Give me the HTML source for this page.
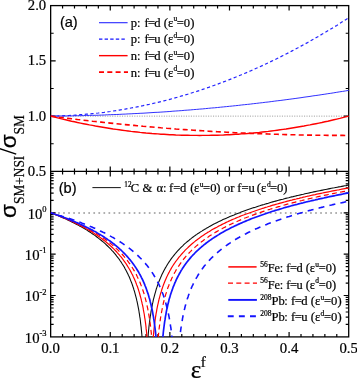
<!DOCTYPE html>
<html><head><meta charset="utf-8"><title>fig</title>
<style>
html,body{margin:0;padding:0;background:#fff;}
body{width:357px;height:378px;overflow:hidden;}
svg{display:block;will-change:transform;}
text{font-family:"Liberation Serif",serif;fill:#000;stroke:#000;stroke-width:0.22px;}
.sans{font-family:"Liberation Sans",sans-serif;}
</style></head><body>
<svg width="357" height="378" viewBox="0 0 357 378">
<defs><clipPath id="ca"><rect x="50.65" y="5.60" width="298.75" height="165.80"/></clipPath><clipPath id="cb"><rect x="50.65" y="171.40" width="298.75" height="165.50"/></clipPath></defs>
<line x1="50.65" y1="116.13" x2="348.70" y2="116.13" stroke="#a0a0a0" stroke-width="1.0" stroke-dasharray="1.1 1.36"/>
<line x1="53.05" y1="213.03" x2="348.70" y2="213.03" stroke="#969696" stroke-width="1.4" stroke-dasharray="1.7 3.34"/>
<path d="M62.57,5.60v3.00M62.57,168.40v6.00M62.57,336.90v-3.00M74.49,5.60v3.00M74.49,168.40v6.00M74.49,336.90v-3.00M86.42,5.60v3.00M86.42,168.40v6.00M86.42,336.90v-3.00M98.34,5.60v3.00M98.34,168.40v6.00M98.34,336.90v-3.00M110.26,5.60v5.00M110.26,166.40v10.00M110.26,336.90v-5.00M122.18,5.60v3.00M122.18,168.40v6.00M122.18,336.90v-3.00M134.10,5.60v3.00M134.10,168.40v6.00M134.10,336.90v-3.00M146.03,5.60v3.00M146.03,168.40v6.00M146.03,336.90v-3.00M157.95,5.60v3.00M157.95,168.40v6.00M157.95,336.90v-3.00M169.87,5.60v5.00M169.87,166.40v10.00M169.87,336.90v-5.00M181.79,5.60v3.00M181.79,168.40v6.00M181.79,336.90v-3.00M193.71,5.60v3.00M193.71,168.40v6.00M193.71,336.90v-3.00M205.64,5.60v3.00M205.64,168.40v6.00M205.64,336.90v-3.00M217.56,5.60v3.00M217.56,168.40v6.00M217.56,336.90v-3.00M229.48,5.60v5.00M229.48,166.40v10.00M229.48,336.90v-5.00M241.40,5.60v3.00M241.40,168.40v6.00M241.40,336.90v-3.00M253.32,5.60v3.00M253.32,168.40v6.00M253.32,336.90v-3.00M265.25,5.60v3.00M265.25,168.40v6.00M265.25,336.90v-3.00M277.17,5.60v3.00M277.17,168.40v6.00M277.17,336.90v-3.00M289.09,5.60v5.00M289.09,166.40v10.00M289.09,336.90v-5.00M301.01,5.60v3.00M301.01,168.40v6.00M301.01,336.90v-3.00M312.93,5.60v3.00M312.93,168.40v6.00M312.93,336.90v-3.00M324.86,5.60v3.00M324.86,168.40v6.00M324.86,336.90v-3.00M336.78,5.60v3.00M336.78,168.40v6.00M336.78,336.90v-3.00M50.65,33.23h3.00M348.70,33.23h-3.00M50.65,60.87h5.00M348.70,60.87h-5.00M50.65,88.50h3.00M348.70,88.50h-3.00M50.65,116.13h5.00M348.70,116.13h-5.00M50.65,143.77h3.00M348.70,143.77h-3.00M50.65,324.44h3.00M348.70,324.44h-3.00M50.65,317.16h3.00M348.70,317.16h-3.00M50.65,311.99h3.00M348.70,311.99h-3.00M50.65,307.98h3.00M348.70,307.98h-3.00M50.65,304.70h3.00M348.70,304.70h-3.00M50.65,301.93h3.00M348.70,301.93h-3.00M50.65,299.53h3.00M348.70,299.53h-3.00M50.65,297.42h3.00M348.70,297.42h-3.00M50.65,295.52h5.00M348.70,295.52h-5.00M50.65,283.07h3.00M348.70,283.07h-3.00M50.65,275.78h3.00M348.70,275.78h-3.00M50.65,270.61h3.00M348.70,270.61h-3.00M50.65,266.61h3.00M348.70,266.61h-3.00M50.65,263.33h3.00M348.70,263.33h-3.00M50.65,260.56h3.00M348.70,260.56h-3.00M50.65,258.16h3.00M348.70,258.16h-3.00M50.65,256.04h3.00M348.70,256.04h-3.00M50.65,254.15h5.00M348.70,254.15h-5.00M50.65,241.69h3.00M348.70,241.69h-3.00M50.65,234.41h3.00M348.70,234.41h-3.00M50.65,229.24h3.00M348.70,229.24h-3.00M50.65,225.23h3.00M348.70,225.23h-3.00M50.65,221.95h3.00M348.70,221.95h-3.00M50.65,219.18h3.00M348.70,219.18h-3.00M50.65,216.78h3.00M348.70,216.78h-3.00M50.65,214.67h3.00M348.70,214.67h-3.00M50.65,212.78h5.00M348.70,212.78h-5.00M50.65,200.32h3.00M348.70,200.32h-3.00M50.65,193.03h3.00M348.70,193.03h-3.00M50.65,187.86h3.00M348.70,187.86h-3.00M50.65,183.86h3.00M348.70,183.86h-3.00M50.65,180.58h3.00M348.70,180.58h-3.00M50.65,177.81h3.00M348.70,177.81h-3.00M50.65,175.41h3.00M348.70,175.41h-3.00M50.65,173.29h3.00M348.70,173.29h-3.00" stroke="#000" stroke-width="1.2" fill="none"/>
<rect x="50.65" y="5.60" width="298.05" height="331.30" fill="none" stroke="#000" stroke-width="1.3"/>
<line x1="50.65" y1="171.40" x2="348.70" y2="171.40" stroke="#000" stroke-width="1.1"/>
<g clip-path="url(#ca)" fill="none" stroke-linejoin="round">
<path d="M50.6,116.1 L53.6,116.1 L56.6,116.1 L59.6,116.0 L62.6,116.0 L65.6,116.0 L68.5,115.9 L71.5,115.9 L74.5,115.8 L77.5,115.7 L80.5,115.7 L83.4,115.6 L86.4,115.5 L89.4,115.4 L92.4,115.3 L95.4,115.3 L98.3,115.2 L101.3,115.1 L104.3,115.0 L107.3,114.8 L110.3,114.7 L113.2,114.6 L116.2,114.5 L119.2,114.4 L122.2,114.2 L125.2,114.1 L128.1,113.9 L131.1,113.8 L134.1,113.6 L137.1,113.5 L140.1,113.3 L143.0,113.2 L146.0,113.0 L149.0,112.8 L152.0,112.6 L155.0,112.4 L157.9,112.3 L160.9,112.1 L163.9,111.9 L166.9,111.7 L169.9,111.5 L172.9,111.2 L175.8,111.0 L178.8,110.8 L181.8,110.6 L184.8,110.3 L187.8,110.1 L190.7,109.9 L193.7,109.6 L196.7,109.4 L199.7,109.1 L202.7,108.9 L205.6,108.6 L208.6,108.3 L211.6,108.0 L214.6,107.8 L217.6,107.5 L220.5,107.2 L223.5,106.9 L226.5,106.6 L229.5,106.3 L232.5,106.0 L235.4,105.7 L238.4,105.4 L241.4,105.0 L244.4,104.7 L247.4,104.4 L250.3,104.1 L253.3,103.7 L256.3,103.4 L259.3,103.0 L262.3,102.7 L265.2,102.3 L268.2,102.0 L271.2,101.6 L274.2,101.2 L277.2,100.8 L280.1,100.5 L283.1,100.1 L286.1,99.7 L289.1,99.3 L292.1,98.9 L295.1,98.5 L298.0,98.1 L301.0,97.7 L304.0,97.2 L307.0,96.8 L310.0,96.4 L312.9,95.9 L315.9,95.5 L318.9,95.1 L321.9,94.6 L324.9,94.2 L327.8,93.7 L330.8,93.3 L333.8,92.8 L336.8,92.3 L339.8,91.8 L342.7,91.4 L345.7,90.9 L348.7,90.4" stroke="#2626ff" stroke-width="0.95"/>
<path d="M50.6,116.1 L53.6,116.1 L56.6,116.0 L59.6,115.9 L62.6,115.8 L65.6,115.7 L68.5,115.5 L71.5,115.3 L74.5,115.2 L77.5,115.0 L80.5,114.7 L83.4,114.5 L86.4,114.2 L89.4,113.9 L92.4,113.6 L95.4,113.3 L98.3,113.0 L101.3,112.6 L104.3,112.3 L107.3,111.9 L110.3,111.5 L113.2,111.0 L116.2,110.6 L119.2,110.1 L122.2,109.6 L125.2,109.1 L128.1,108.6 L131.1,108.0 L134.1,107.5 L137.1,106.9 L140.1,106.3 L143.0,105.7 L146.0,105.0 L149.0,104.4 L152.0,103.7 L155.0,103.0 L157.9,102.3 L160.9,101.6 L163.9,100.8 L166.9,100.1 L169.9,99.3 L172.9,98.5 L175.8,97.7 L178.8,96.8 L181.8,95.9 L184.8,95.1 L187.8,94.2 L190.7,93.3 L193.7,92.3 L196.7,91.4 L199.7,90.4 L202.7,89.4 L205.6,88.4 L208.6,87.4 L211.6,86.3 L214.6,85.2 L217.6,84.2 L220.5,83.0 L223.5,81.9 L226.5,80.8 L229.5,79.6 L232.5,78.4 L235.4,77.2 L238.4,76.0 L241.4,74.8 L244.4,73.5 L247.4,72.3 L250.3,71.0 L253.3,69.7 L256.3,68.3 L259.3,67.0 L262.3,65.6 L265.2,64.2 L268.2,62.8 L271.2,61.4 L274.2,60.0 L277.2,58.5 L280.1,57.0 L283.1,55.5 L286.1,54.0 L289.1,52.5 L292.1,50.9 L295.1,49.3 L298.0,47.8 L301.0,46.1 L304.0,44.5 L307.0,42.9 L310.0,41.2 L312.9,39.5 L315.9,37.8 L318.9,36.1 L321.9,34.3 L324.9,32.6 L327.8,30.8 L330.8,29.0 L333.8,27.2 L336.8,25.4 L339.8,23.5 L342.7,21.6 L345.7,19.7 L348.7,17.8" stroke="#2424ff" stroke-width="1.2" stroke-dasharray="3.2 2.5"/>
<path d="M50.6,116.1 L53.6,116.9 L56.6,117.6 L59.6,118.4 L62.6,119.1 L65.6,119.8 L68.5,120.5 L71.5,121.2 L74.5,121.8 L77.5,122.5 L80.5,123.1 L83.4,123.7 L86.4,124.3 L89.4,124.9 L92.4,125.4 L95.4,126.0 L98.3,126.5 L101.3,127.0 L104.3,127.5 L107.3,128.0 L110.3,128.5 L113.2,129.0 L116.2,129.4 L119.2,129.8 L122.2,130.2 L125.2,130.6 L128.1,131.0 L131.1,131.4 L134.1,131.7 L137.1,132.0 L140.1,132.4 L143.0,132.7 L146.0,133.0 L149.0,133.2 L152.0,133.5 L155.0,133.7 L157.9,133.9 L160.9,134.2 L163.9,134.3 L166.9,134.5 L169.9,134.7 L172.9,134.8 L175.8,135.0 L178.8,135.1 L181.8,135.2 L184.8,135.3 L187.8,135.3 L190.7,135.4 L193.7,135.4 L196.7,135.4 L199.7,135.5 L202.7,135.4 L205.6,135.4 L208.6,135.4 L211.6,135.3 L214.6,135.3 L217.6,135.2 L220.5,135.1 L223.5,135.0 L226.5,134.8 L229.5,134.7 L232.5,134.5 L235.4,134.3 L238.4,134.2 L241.4,133.9 L244.4,133.7 L247.4,133.5 L250.3,133.2 L253.3,133.0 L256.3,132.7 L259.3,132.4 L262.3,132.0 L265.2,131.7 L268.2,131.4 L271.2,131.0 L274.2,130.6 L277.2,130.2 L280.1,129.8 L283.1,129.4 L286.1,129.0 L289.1,128.5 L292.1,128.0 L295.1,127.5 L298.0,127.0 L301.0,126.5 L304.0,126.0 L307.0,125.4 L310.0,124.9 L312.9,124.3 L315.9,123.7 L318.9,123.1 L321.9,122.5 L324.9,121.8 L327.8,121.2 L330.8,120.5 L333.8,119.8 L336.8,119.1 L339.8,118.4 L342.7,117.6 L345.7,116.9 L348.7,116.1" stroke="#ff0000" stroke-width="1.4"/>
<path d="M50.6,116.1 L53.6,116.5 L56.6,116.9 L59.6,117.3 L62.6,117.6 L65.6,118.0 L68.5,118.4 L71.5,118.7 L74.5,119.1 L77.5,119.5 L80.5,119.8 L83.4,120.2 L86.4,120.5 L89.4,120.8 L92.4,121.2 L95.4,121.5 L98.3,121.8 L101.3,122.1 L104.3,122.5 L107.3,122.8 L110.3,123.1 L113.2,123.4 L116.2,123.7 L119.2,124.0 L122.2,124.3 L125.2,124.6 L128.1,124.9 L131.1,125.2 L134.1,125.4 L137.1,125.7 L140.1,126.0 L143.0,126.3 L146.0,126.5 L149.0,126.8 L152.0,127.0 L155.0,127.3 L157.9,127.5 L160.9,127.8 L163.9,128.0 L166.9,128.3 L169.9,128.5 L172.9,128.7 L175.8,129.0 L178.8,129.2 L181.8,129.4 L184.8,129.6 L187.8,129.8 L190.7,130.0 L193.7,130.2 L196.7,130.4 L199.7,130.6 L202.7,130.8 L205.6,131.0 L208.6,131.2 L211.6,131.4 L214.6,131.5 L217.6,131.7 L220.5,131.9 L223.5,132.0 L226.5,132.2 L229.5,132.4 L232.5,132.5 L235.4,132.7 L238.4,132.8 L241.4,133.0 L244.4,133.1 L247.4,133.2 L250.3,133.4 L253.3,133.5 L256.3,133.6 L259.3,133.7 L262.3,133.8 L265.2,133.9 L268.2,134.0 L271.2,134.2 L274.2,134.2 L277.2,134.3 L280.1,134.4 L283.1,134.5 L286.1,134.6 L289.1,134.7 L292.1,134.8 L295.1,134.8 L298.0,134.9 L301.0,135.0 L304.0,135.0 L307.0,135.1 L310.0,135.1 L312.9,135.2 L315.9,135.2 L318.9,135.3 L321.9,135.3 L324.9,135.3 L327.8,135.4 L330.8,135.4 L333.8,135.4 L336.8,135.4 L339.8,135.4 L342.7,135.4 L345.7,135.5 L348.7,135.5" stroke="#ff0000" stroke-width="1.6" stroke-dasharray="5 3.3"/>
</g>
<g clip-path="url(#cb)" fill="none" stroke-linejoin="round">
<path d="M50.6,212.8 L52.1,213.3 L53.5,213.9 L54.9,214.4 L56.3,215.0 L57.7,215.5 L59.0,216.1 L60.4,216.7 L61.8,217.3 L63.2,217.9 L64.6,218.5 L66.0,219.1 L67.3,219.8 L68.7,220.4 L70.1,221.0 L71.4,221.7 L72.8,222.4 L74.1,223.0 L75.4,223.7 L76.8,224.4 L78.1,225.1 L79.4,225.9 L80.8,226.6 L82.1,227.3 L83.4,228.1 L84.7,228.8 L86.0,229.6 L87.3,230.4 L88.5,231.2 L89.8,232.0 L91.1,232.9 L92.3,233.7 L93.6,234.6 L94.8,235.4 L96.0,236.3 L97.2,237.2 L98.4,238.1 L99.6,239.1 L100.8,240.0 L102.0,241.0 L103.1,241.9 L104.3,242.9 L105.4,243.9 L106.5,245.0 L107.6,246.0 L108.7,247.1 L109.8,248.2 L110.8,249.2 L111.8,250.3 L112.9,251.4 L113.9,252.6 L114.8,253.7 L115.8,254.9 L116.7,256.1 L117.7,257.3 L118.6,258.5 L119.5,259.7 L120.3,261.0 L121.2,262.2 L122.0,263.5 L122.8,264.7 L123.6,266.0 L124.4,267.3 L125.1,268.7 L125.8,270.0 L126.5,271.3 L127.2,272.7 L127.9,274.1 L128.5,275.4 L129.2,276.8 L129.8,278.2 L130.3,279.6 L130.9,281.1 L131.5,282.5 L132.0,283.9 L132.5,285.3 L133.0,286.8 L133.5,288.2 L133.9,289.7 L134.4,291.1 L134.8,292.6 L135.2,294.1 L135.6,295.6 L136.0,297.2 L136.4,298.7 L136.7,300.2 L137.1,301.7 L137.4,303.2 L137.7,304.7 L138.0,306.2 L138.3,307.7 L138.6,309.2 L138.9,310.8 L139.1,312.3 L139.4,313.9 L139.6,315.4 L139.8,316.9 L140.1,318.5 L140.3,320.0 L140.5,321.5 L140.6,323.1 L140.8,324.6 L141.0,326.1 L141.2,327.6 L141.3,329.2 L141.5,330.8 L141.6,332.3 L141.8,334.0 L141.9,335.5 L142.1,337.1 L142.2,338.7 L142.3,340.3 L142.4,341.9 L142.6,343.6 L142.7,345.1 L142.8,346.7 L142.9,348.4 L143.0,349.9 L143.0,351.5 L143.1,353.2 L143.2,354.9 L143.3,356.4 L143.4,358.0 L143.4,359.7 L143.5,361.4 L143.6,363.2 L143.7,364.7 L144.7,365.8 L146.2,365.8 L146.4,364.2 L146.5,362.7 L146.6,360.9 L146.6,359.2 L146.7,357.6 L146.8,356.0 L146.9,354.2 L147.0,352.5 L147.1,350.9 L147.1,349.3 L147.2,347.6 L147.4,346.0 L147.5,344.4 L147.6,342.9 L147.7,341.2 L147.8,339.6 L147.9,338.1 L148.1,336.5 L148.2,334.9 L148.3,333.4 L148.5,331.8 L148.6,330.3 L148.8,328.7 L148.9,327.2 L149.1,325.5 L149.3,324.0 L149.5,322.4 L149.7,320.9 L149.9,319.3 L150.1,317.8 L150.3,316.3 L150.6,314.8 L150.8,313.3 L151.0,311.7 L151.3,310.2 L151.6,308.7 L151.9,307.2 L152.2,305.7 L152.4,304.2 L152.8,302.7 L153.1,301.2 L153.4,299.7 L153.8,298.2 L154.2,296.7 L154.6,295.2 L155.0,293.7 L155.4,292.3 L155.8,290.8 L156.2,289.3 L156.7,287.9 L157.2,286.4 L157.7,285.0 L158.2,283.6 L158.7,282.1 L159.3,280.7 L159.9,279.3 L160.5,277.9 L161.1,276.5 L161.7,275.1 L162.3,273.8 L163.0,272.4 L163.7,271.0 L164.4,269.7 L165.1,268.4 L165.9,267.1 L166.7,265.7 L167.4,264.5 L168.2,263.2 L169.1,261.9 L169.9,260.7 L170.8,259.4 L171.7,258.2 L172.6,257.0 L173.5,255.8 L174.5,254.6 L175.4,253.5 L176.4,252.3 L177.4,251.2 L178.4,250.1 L179.5,249.0 L180.5,247.9 L181.6,246.8 L182.7,245.8 L183.8,244.7 L184.9,243.7 L186.1,242.7 L187.2,241.7 L188.4,240.8 L189.5,239.8 L190.7,238.9 L191.9,237.9 L193.1,237.0 L194.3,236.1 L195.5,235.3 L196.8,234.4 L198.0,233.5 L199.3,232.7 L200.5,231.9 L201.8,231.1 L203.1,230.2 L204.4,229.5 L205.7,228.7 L206.9,227.9 L208.3,227.2 L209.6,226.4 L210.9,225.7 L212.2,225.0 L213.5,224.3 L214.9,223.6 L216.2,222.9 L217.6,222.2 L218.9,221.6 L220.3,220.9 L221.7,220.3 L223.0,219.6 L224.4,219.0 L225.8,218.4 L227.2,217.8 L228.5,217.2 L229.9,216.6 L231.3,216.0 L232.7,215.4 L234.1,214.9 L235.5,214.3 L236.9,213.7 L238.3,213.2 L239.7,212.7 L241.1,212.1 L242.6,211.6 L244.0,211.1 L245.4,210.6 L246.8,210.1 L248.2,209.6 L249.7,209.1 L251.1,208.6 L252.5,208.1 L253.9,207.6 L255.4,207.2 L256.8,206.7 L258.2,206.2 L259.7,205.8 L261.1,205.3 L262.6,204.9 L264.0,204.5 L265.5,204.0 L266.9,203.6 L268.3,203.2 L269.8,202.7 L271.2,202.3 L272.7,201.9 L274.1,201.5 L275.6,201.1 L277.0,200.7 L278.5,200.3 L280.0,199.9 L281.4,199.5 L282.9,199.2 L284.4,198.8 L285.8,198.4 L287.3,198.0 L288.7,197.7 L290.2,197.3 L291.7,196.9 L293.1,196.6 L294.6,196.2 L296.0,195.9 L297.5,195.5 L299.0,195.2 L300.4,194.9 L301.9,194.5 L303.4,194.2 L304.9,193.8 L306.3,193.5 L307.8,193.2 L309.3,192.9 L310.8,192.5 L312.2,192.2 L313.7,191.9 L315.2,191.6 L316.7,191.3 L318.1,191.0 L319.6,190.7 L321.1,190.4 L322.6,190.1 L324.0,189.8 L325.5,189.5 L327.0,189.2 L328.5,188.9 L329.9,188.6 L331.4,188.3 L332.9,188.0 L334.4,187.8 L335.8,187.5 L337.3,187.2 L338.8,186.9 L340.3,186.7 L341.8,186.4 L343.2,186.1 L344.7,185.8 L346.2,185.6 L347.7,185.3 L348.7,185.1" stroke="#0d0d0d" stroke-width="1.1"/>
<path d="M50.6,212.8 L52.1,213.3 L53.5,213.8 L54.9,214.3 L56.3,214.9 L57.7,215.4 L59.1,216.0 L60.5,216.5 L61.9,217.1 L63.3,217.7 L64.7,218.2 L66.1,218.8 L67.5,219.4 L68.9,220.0 L70.2,220.7 L71.6,221.3 L73.0,221.9 L74.3,222.6 L75.7,223.2 L77.1,223.9 L78.4,224.5 L79.8,225.2 L81.1,225.9 L82.4,226.6 L83.8,227.3 L85.1,228.0 L86.4,228.8 L87.7,229.5 L89.0,230.3 L90.3,231.1 L91.6,231.8 L92.9,232.6 L94.2,233.4 L95.4,234.3 L96.7,235.1 L97.9,235.9 L99.2,236.8 L100.4,237.7 L101.6,238.6 L102.8,239.5 L104.0,240.4 L105.2,241.3 L106.4,242.3 L107.5,243.3 L108.7,244.2 L109.8,245.2 L110.9,246.3 L112.0,247.3 L113.1,248.3 L114.2,249.4 L115.3,250.5 L116.3,251.5 L117.3,252.7 L118.3,253.8 L119.3,254.9 L120.3,256.1 L121.3,257.2 L122.2,258.4 L123.1,259.6 L124.0,260.9 L124.9,262.1 L125.8,263.3 L126.6,264.6 L127.4,265.9 L128.2,267.2 L129.0,268.5 L129.8,269.8 L130.5,271.1 L131.2,272.4 L131.9,273.8 L132.6,275.1 L133.2,276.5 L133.9,277.9 L134.5,279.3 L135.1,280.7 L135.7,282.1 L136.2,283.5 L136.7,284.9 L137.3,286.3 L137.8,287.8 L138.3,289.2 L138.7,290.6 L139.2,292.1 L139.6,293.5 L140.0,295.0 L140.4,296.5 L140.8,297.9 L141.2,299.4 L141.5,300.9 L141.9,302.3 L142.2,303.9 L142.6,305.4 L142.9,306.9 L143.2,308.4 L143.4,309.9 L143.7,311.5 L144.0,313.0 L144.3,314.5 L144.5,316.0 L144.7,317.6 L145.0,319.1 L145.2,320.7 L145.4,322.2 L145.6,323.7 L145.8,325.3 L146.0,326.8 L146.1,328.4 L146.3,329.9 L146.5,331.5 L146.6,333.0 L146.8,334.5 L146.9,336.2 L147.0,337.7 L147.2,339.3 L147.3,341.0 L147.4,342.5 L147.5,344.2 L147.7,345.9 L147.8,347.4 L147.9,349.1 L148.0,350.8 L148.1,352.3 L148.2,353.9 L148.2,355.6 L148.3,357.4 L148.4,358.9 L148.5,360.5 L148.6,362.2 L148.6,364.0 L148.7,365.8 L150.2,365.8 L151.6,365.0 L151.6,363.2 L151.7,361.5 L151.8,359.8 L151.9,358.2 L151.9,356.7 L152.0,355.0 L152.1,353.3 L152.2,351.8 L152.3,350.2 L152.4,348.6 L152.5,346.9 L152.6,345.4 L152.7,343.7 L152.8,342.1 L153.0,340.6 L153.1,338.9 L153.2,337.3 L153.4,335.8 L153.5,334.2 L153.7,332.6 L153.8,331.0 L154.0,329.5 L154.1,328.0 L154.3,326.4 L154.5,324.9 L154.7,323.4 L154.9,321.9 L155.1,320.3 L155.3,318.8 L155.5,317.3 L155.8,315.7 L156.0,314.1 L156.3,312.6 L156.6,311.1 L156.8,309.6 L157.1,308.1 L157.4,306.6 L157.7,305.1 L158.1,303.6 L158.4,302.1 L158.8,300.5 L159.1,299.0 L159.5,297.6 L159.9,296.1 L160.3,294.7 L160.7,293.2 L161.2,291.7 L161.6,290.3 L162.1,288.8 L162.6,287.4 L163.1,285.9 L163.6,284.5 L164.2,283.1 L164.7,281.7 L165.3,280.3 L165.9,278.9 L166.5,277.5 L167.2,276.1 L167.8,274.8 L168.5,273.4 L169.2,272.1 L169.9,270.7 L170.7,269.4 L171.4,268.1 L172.2,266.8 L173.0,265.5 L173.9,264.2 L174.7,263.0 L175.6,261.7 L176.5,260.5 L177.4,259.3 L178.3,258.1 L179.2,256.9 L180.2,255.8 L181.2,254.6 L182.2,253.5 L183.2,252.4 L184.2,251.3 L185.2,250.2 L186.3,249.1 L187.4,248.1 L188.5,247.0 L189.6,246.0 L190.7,245.0 L191.8,244.0 L193.0,243.0 L194.1,242.1 L195.3,241.1 L196.5,240.2 L197.7,239.3 L198.9,238.4 L200.1,237.5 L201.4,236.6 L202.6,235.8 L203.8,234.9 L205.1,234.1 L206.4,233.3 L207.6,232.4 L208.9,231.7 L210.2,230.9 L211.5,230.1 L212.8,229.3 L214.1,228.6 L215.5,227.9 L216.8,227.2 L218.1,226.4 L219.5,225.7 L220.8,225.1 L222.1,224.4 L223.5,223.7 L224.8,223.1 L226.2,222.4 L227.6,221.8 L228.9,221.1 L230.3,220.5 L231.7,219.9 L233.1,219.3 L234.5,218.7 L235.8,218.1 L237.2,217.5 L238.6,217.0 L240.0,216.4 L241.4,215.8 L242.8,215.3 L244.2,214.8 L245.6,214.2 L247.1,213.7 L248.5,213.2 L249.9,212.7 L251.3,212.2 L252.7,211.7 L254.2,211.2 L255.6,210.7 L257.0,210.2 L258.5,209.7 L259.9,209.2 L261.3,208.8 L262.7,208.3 L264.2,207.9 L265.6,207.4 L267.1,207.0 L268.5,206.5 L270.0,206.1 L271.4,205.6 L272.8,205.2 L274.3,204.8 L275.7,204.4 L277.2,204.0 L278.6,203.6 L280.1,203.2 L281.5,202.8 L283.0,202.4 L284.5,202.0 L285.9,201.6 L287.4,201.2 L288.8,200.8 L290.3,200.4 L291.8,200.1 L293.2,199.7 L294.7,199.3 L296.1,199.0 L297.6,198.6 L299.1,198.3 L300.5,197.9 L302.0,197.6 L303.4,197.2 L304.9,196.9 L306.4,196.5 L307.9,196.2 L309.3,195.9 L310.8,195.5 L312.3,195.2 L313.8,194.9 L315.2,194.6 L316.7,194.2 L318.2,193.9 L319.7,193.6 L321.1,193.3 L322.6,193.0 L324.1,192.7 L325.6,192.4 L327.0,192.1 L328.5,191.8 L330.0,191.5 L331.5,191.2 L332.9,190.9 L334.4,190.6 L335.9,190.3 L337.4,190.0 L338.8,189.8 L340.3,189.5 L341.8,189.2 L343.3,188.9 L344.8,188.6 L346.2,188.4 L347.7,188.1 L348.7,187.9" stroke="#ff0000" stroke-width="1.2"/>
<path d="M50.6,212.8 L52.1,213.3 L53.5,213.8 L54.9,214.3 L56.3,214.8 L57.7,215.3 L59.2,215.8 L60.6,216.4 L62.0,216.9 L63.4,217.5 L64.8,218.0 L66.2,218.6 L67.6,219.1 L69.0,219.7 L70.4,220.3 L71.7,220.9 L73.1,221.5 L74.5,222.1 L75.9,222.7 L77.3,223.4 L78.6,224.0 L80.0,224.6 L81.3,225.3 L82.7,226.0 L84.0,226.6 L85.4,227.3 L86.7,228.0 L88.0,228.7 L89.4,229.4 L90.7,230.2 L92.0,230.9 L93.3,231.7 L94.6,232.4 L95.9,233.2 L97.2,234.0 L98.5,234.8 L99.7,235.6 L101.0,236.5 L102.3,237.3 L103.5,238.2 L104.7,239.0 L106.0,239.9 L107.2,240.8 L108.4,241.7 L109.6,242.7 L110.7,243.6 L111.9,244.6 L113.0,245.5 L114.2,246.5 L115.3,247.5 L116.4,248.6 L117.5,249.6 L118.6,250.7 L119.7,251.7 L120.7,252.8 L121.8,253.9 L122.8,255.0 L123.8,256.2 L124.8,257.3 L125.7,258.5 L126.7,259.7 L127.6,260.9 L128.5,262.1 L129.4,263.3 L130.3,264.5 L131.1,265.8 L131.9,267.0 L132.7,268.3 L133.5,269.6 L134.3,270.9 L135.0,272.2 L135.8,273.6 L136.5,274.9 L137.1,276.3 L137.8,277.7 L138.5,279.0 L139.1,280.4 L139.7,281.8 L140.3,283.2 L140.8,284.6 L141.4,286.1 L141.9,287.5 L142.4,288.9 L142.9,290.3 L143.4,291.8 L143.9,293.2 L144.3,294.7 L144.7,296.2 L145.1,297.7 L145.5,299.2 L145.9,300.7 L146.3,302.2 L146.7,303.7 L147.0,305.3 L147.3,306.8 L147.7,308.3 L147.9,309.8 L148.2,311.2 L148.5,312.8 L148.8,314.3 L149.0,315.8 L149.3,317.4 L149.5,318.9 L149.8,320.4 L150.0,322.0 L150.2,323.5 L150.4,325.1 L150.6,326.7 L150.8,328.2 L150.9,329.8 L151.1,331.3 L151.3,332.8 L151.4,334.4 L151.6,336.0 L151.7,337.6 L151.9,339.1 L152.0,340.7 L152.1,342.4 L152.3,343.9 L152.4,345.6 L152.5,347.2 L152.6,348.8 L152.7,350.4 L152.8,352.1 L152.9,353.6 L153.0,355.2 L153.1,356.9 L153.2,358.6 L153.2,360.1 L153.3,361.7 L153.4,363.4 L153.5,365.1 L154.8,365.8 L156.3,365.8 L156.5,364.0 L156.6,362.4 L156.7,360.7 L156.7,359.2 L156.8,357.4 L156.9,355.8 L157.0,354.1 L157.1,352.6 L157.2,350.9 L157.3,349.2 L157.4,347.7 L157.5,346.2 L157.6,344.5 L157.8,343.0 L157.9,341.5 L158.0,339.8 L158.1,338.3 L158.3,336.6 L158.4,335.1 L158.6,333.5 L158.8,332.0 L158.9,330.4 L159.1,328.8 L159.3,327.3 L159.5,325.7 L159.7,324.2 L159.9,322.7 L160.1,321.2 L160.3,319.6 L160.5,318.1 L160.8,316.5 L161.0,315.0 L161.3,313.5 L161.6,312.0 L161.9,310.5 L162.2,308.9 L162.5,307.4 L162.8,305.9 L163.1,304.5 L163.4,303.0 L163.8,301.5 L164.2,300.0 L164.6,298.5 L165.0,297.0 L165.4,295.6 L165.8,294.1 L166.3,292.7 L166.7,291.2 L167.2,289.8 L167.7,288.3 L168.2,286.9 L168.8,285.5 L169.3,284.1 L169.9,282.7 L170.5,281.3 L171.1,279.9 L171.7,278.5 L172.4,277.1 L173.0,275.8 L173.7,274.4 L174.4,273.1 L175.2,271.8 L175.9,270.4 L176.7,269.1 L177.5,267.8 L178.3,266.6 L179.2,265.3 L180.0,264.1 L180.9,262.8 L181.8,261.6 L182.7,260.4 L183.6,259.2 L184.6,258.0 L185.5,256.9 L186.5,255.7 L187.5,254.6 L188.6,253.5 L189.6,252.4 L190.7,251.3 L191.7,250.2 L192.8,249.2 L193.9,248.2 L195.1,247.1 L196.2,246.1 L197.3,245.2 L198.5,244.2 L199.7,243.2 L200.9,242.3 L202.0,241.4 L203.3,240.5 L204.5,239.6 L205.7,238.7 L206.9,237.8 L208.2,237.0 L209.4,236.1 L210.7,235.3 L212.0,234.5 L213.3,233.7 L214.5,232.9 L215.8,232.1 L217.1,231.4 L218.4,230.6 L219.7,229.9 L221.1,229.2 L222.4,228.5 L223.7,227.7 L225.1,227.1 L226.4,226.4 L227.8,225.7 L229.1,225.0 L230.5,224.4 L231.9,223.7 L233.2,223.1 L234.6,222.5 L236.0,221.9 L237.4,221.3 L238.7,220.7 L240.1,220.1 L241.5,219.5 L242.9,218.9 L244.3,218.3 L245.7,217.8 L247.1,217.2 L248.5,216.7 L249.9,216.1 L251.4,215.6 L252.8,215.1 L254.2,214.6 L255.6,214.1 L257.0,213.6 L258.5,213.1 L259.9,212.6 L261.3,212.1 L262.7,211.6 L264.2,211.1 L265.6,210.7 L267.0,210.2 L268.5,209.7 L269.9,209.3 L271.4,208.8 L272.8,208.4 L274.2,208.0 L275.7,207.5 L277.1,207.1 L278.6,206.7 L280.0,206.3 L281.5,205.8 L282.9,205.4 L284.4,205.0 L285.8,204.6 L287.3,204.2 L288.7,203.8 L290.2,203.4 L291.7,203.1 L293.1,202.7 L294.6,202.3 L296.0,201.9 L297.5,201.6 L299.0,201.2 L300.4,200.8 L301.9,200.5 L303.4,200.1 L304.8,199.8 L306.3,199.4 L307.7,199.1 L309.2,198.7 L310.7,198.4 L312.2,198.0 L313.6,197.7 L315.1,197.4 L316.6,197.0 L318.1,196.7 L319.5,196.4 L321.0,196.1 L322.5,195.8 L324.0,195.4 L325.4,195.1 L326.9,194.8 L328.4,194.5 L329.9,194.2 L331.3,193.9 L332.8,193.6 L334.3,193.3 L335.8,193.0 L337.2,192.7 L338.7,192.4 L340.2,192.1 L341.7,191.9 L343.1,191.6 L344.6,191.3 L346.1,191.0 L347.6,190.7 L348.7,190.5" stroke="#ff0000" stroke-width="1.2" stroke-dasharray="5 3.3"/>
<path d="M50.6,212.8 L52.1,213.3 L53.5,213.7 L54.9,214.2 L56.4,214.7 L57.8,215.2 L59.2,215.7 L60.6,216.2 L62.0,216.7 L63.5,217.3 L64.9,217.8 L66.3,218.3 L67.7,218.9 L69.1,219.4 L70.5,220.0 L71.9,220.6 L73.3,221.2 L74.7,221.7 L76.0,222.3 L77.4,222.9 L78.8,223.5 L80.2,224.2 L81.6,224.8 L82.9,225.4 L84.3,226.1 L85.6,226.7 L87.0,227.4 L88.3,228.1 L89.7,228.7 L91.0,229.4 L92.3,230.1 L93.7,230.9 L95.0,231.6 L96.3,232.3 L97.6,233.1 L98.9,233.9 L100.2,234.6 L101.5,235.4 L102.8,236.2 L104.0,237.0 L105.3,237.9 L106.6,238.7 L107.8,239.6 L109.0,240.4 L110.3,241.3 L111.5,242.2 L112.7,243.1 L113.9,244.0 L115.0,245.0 L116.2,245.9 L117.4,246.9 L118.5,247.9 L119.6,248.9 L120.8,249.9 L121.9,251.0 L122.9,252.0 L124.0,253.1 L125.1,254.2 L126.1,255.3 L127.1,256.4 L128.1,257.5 L129.1,258.7 L130.1,259.9 L131.0,261.0 L132.0,262.2 L132.9,263.4 L133.8,264.7 L134.6,265.9 L135.5,267.2 L136.3,268.4 L137.1,269.7 L137.9,271.0 L138.7,272.3 L139.4,273.6 L140.2,275.0 L140.9,276.3 L141.5,277.6 L142.2,279.0 L142.9,280.4 L143.5,281.8 L144.1,283.2 L144.7,284.6 L145.2,286.0 L145.8,287.4 L146.3,288.8 L146.8,290.2 L147.3,291.7 L147.8,293.1 L148.3,294.6 L148.7,296.0 L149.1,297.5 L149.6,299.0 L150.0,300.5 L150.3,302.0 L150.7,303.5 L151.1,305.0 L151.4,306.5 L151.7,308.0 L152.1,309.5 L152.4,311.0 L152.7,312.6 L152.9,314.1 L153.2,315.6 L153.5,317.1 L153.7,318.7 L154.0,320.2 L154.2,321.7 L154.4,323.3 L154.6,324.8 L154.8,326.4 L155.0,327.9 L155.2,329.5 L155.4,331.1 L155.6,332.7 L155.7,334.3 L155.9,335.9 L156.0,337.4 L156.2,339.1 L156.3,340.6 L156.5,342.2 L156.6,343.8 L156.7,345.4 L156.8,347.0 L156.9,348.7 L157.1,350.2 L157.2,351.8 L157.3,353.5 L157.4,355.0 L157.4,356.6 L157.5,358.3 L157.6,360.0 L157.7,361.5 L157.8,363.1 L157.8,364.7 L158.9,365.8 L160.4,365.8 L161.0,364.3 L161.1,362.7 L161.2,361.1 L161.3,359.3 L161.4,357.6 L161.5,356.0 L161.5,354.5 L161.6,352.7 L161.7,351.1 L161.9,349.5 L162.0,348.0 L162.1,346.3 L162.2,344.7 L162.3,343.2 L162.4,341.6 L162.6,340.0 L162.7,338.5 L162.9,336.9 L163.0,335.4 L163.2,333.8 L163.3,332.3 L163.5,330.7 L163.7,329.1 L163.9,327.5 L164.1,326.0 L164.3,324.4 L164.5,322.9 L164.7,321.4 L165.0,319.9 L165.2,318.4 L165.4,316.8 L165.7,315.3 L166.0,313.8 L166.2,312.3 L166.5,310.8 L166.8,309.3 L167.2,307.8 L167.5,306.3 L167.8,304.8 L168.2,303.3 L168.6,301.8 L168.9,300.3 L169.3,298.8 L169.8,297.4 L170.2,295.9 L170.6,294.4 L171.1,293.0 L171.6,291.5 L172.1,290.1 L172.6,288.7 L173.1,287.2 L173.7,285.8 L174.3,284.4 L174.8,283.0 L175.5,281.6 L176.1,280.2 L176.7,278.9 L177.4,277.5 L178.1,276.1 L178.8,274.8 L179.5,273.5 L180.3,272.2 L181.0,270.8 L181.8,269.6 L182.6,268.3 L183.5,267.0 L184.3,265.8 L185.2,264.5 L186.1,263.3 L187.0,262.1 L187.9,260.9 L188.9,259.7 L189.8,258.6 L190.8,257.4 L191.8,256.3 L192.8,255.2 L193.9,254.1 L194.9,253.0 L196.0,251.9 L197.1,250.9 L198.2,249.9 L199.3,248.8 L200.4,247.8 L201.6,246.8 L202.8,245.9 L203.9,244.9 L205.1,244.0 L206.3,243.0 L207.5,242.1 L208.7,241.2 L209.9,240.4 L211.2,239.5 L212.4,238.6 L213.7,237.8 L214.9,237.0 L216.2,236.2 L217.5,235.4 L218.8,234.6 L220.0,233.8 L221.3,233.0 L222.7,232.3 L224.0,231.5 L225.3,230.8 L226.6,230.1 L227.9,229.4 L229.3,228.7 L230.6,228.0 L232.0,227.3 L233.3,226.7 L234.7,226.0 L236.1,225.4 L237.4,224.7 L238.8,224.1 L240.2,223.5 L241.6,222.9 L242.9,222.3 L244.3,221.7 L245.7,221.1 L247.1,220.5 L248.5,220.0 L249.9,219.4 L251.3,218.8 L252.7,218.3 L254.1,217.8 L255.5,217.2 L257.0,216.7 L258.4,216.2 L259.8,215.7 L261.2,215.2 L262.6,214.7 L264.1,214.2 L265.5,213.7 L266.9,213.2 L268.3,212.7 L269.8,212.3 L271.2,211.8 L272.6,211.3 L274.1,210.9 L275.5,210.4 L277.0,210.0 L278.4,209.6 L279.9,209.1 L281.3,208.7 L282.7,208.3 L284.2,207.8 L285.6,207.4 L287.1,207.0 L288.5,206.6 L290.0,206.2 L291.4,205.8 L292.9,205.4 L294.4,205.0 L295.8,204.6 L297.3,204.3 L298.7,203.9 L300.2,203.5 L301.7,203.1 L303.1,202.8 L304.6,202.4 L306.0,202.0 L307.5,201.7 L309.0,201.3 L310.4,201.0 L311.9,200.6 L313.4,200.3 L314.8,200.0 L316.3,199.6 L317.8,199.3 L319.3,198.9 L320.7,198.6 L322.2,198.3 L323.7,198.0 L325.2,197.6 L326.6,197.3 L328.1,197.0 L329.6,196.7 L331.1,196.4 L332.5,196.1 L334.0,195.8 L335.5,195.5 L337.0,195.2 L338.4,194.9 L339.9,194.6 L341.4,194.3 L342.9,194.0 L344.3,193.7 L345.8,193.4 L347.3,193.1 L348.7,192.9" stroke="#1414ff" stroke-width="1.7"/>
<path d="M50.6,212.8 L52.1,213.2 L53.5,213.6 L55.0,214.0 L56.4,214.5 L57.9,214.9 L59.3,215.4 L60.8,215.8 L62.2,216.3 L63.6,216.7 L65.1,217.2 L66.5,217.6 L67.9,218.1 L69.4,218.6 L70.8,219.1 L72.2,219.6 L73.7,220.1 L75.1,220.6 L76.5,221.1 L77.9,221.6 L79.3,222.1 L80.7,222.6 L82.2,223.2 L83.6,223.7 L85.0,224.3 L86.4,224.8 L87.8,225.4 L89.2,226.0 L90.5,226.6 L91.9,227.1 L93.3,227.7 L94.7,228.3 L96.1,229.0 L97.4,229.6 L98.8,230.2 L100.2,230.9 L101.5,231.5 L102.9,232.2 L104.3,232.8 L105.6,233.5 L106.9,234.2 L108.3,234.9 L109.6,235.6 L110.9,236.4 L112.2,237.1 L113.6,237.8 L114.8,238.6 L116.1,239.4 L117.4,240.1 L118.7,240.9 L120.0,241.8 L121.3,242.6 L122.5,243.4 L123.8,244.3 L125.0,245.1 L126.2,246.0 L127.4,246.9 L128.6,247.8 L129.8,248.7 L131.0,249.6 L132.2,250.6 L133.4,251.6 L134.5,252.5 L135.6,253.5 L136.8,254.6 L137.9,255.6 L138.9,256.6 L140.0,257.7 L141.1,258.8 L142.1,259.8 L143.1,261.0 L144.2,262.1 L145.2,263.2 L146.1,264.4 L147.1,265.5 L148.0,266.7 L148.9,267.9 L149.8,269.2 L150.7,270.4 L151.6,271.6 L152.4,272.9 L153.2,274.2 L154.0,275.5 L154.8,276.8 L155.6,278.1 L156.3,279.4 L157.0,280.7 L157.7,282.1 L158.4,283.4 L159.1,284.8 L159.7,286.2 L160.3,287.6 L160.9,289.0 L161.5,290.4 L162.0,291.8 L162.6,293.2 L163.1,294.6 L163.6,296.1 L164.1,297.5 L164.5,299.0 L165.0,300.4 L165.4,301.9 L165.8,303.3 L166.2,304.8 L166.6,306.2 L167.0,307.7 L167.4,309.2 L167.7,310.6 L168.1,312.2 L168.4,313.7 L168.7,315.2 L169.0,316.7 L169.3,318.2 L169.5,319.7 L169.8,321.3 L170.1,322.8 L170.3,324.3 L170.5,325.8 L170.8,327.3 L171.0,328.9 L171.2,330.5 L171.4,332.0 L171.6,333.5 L171.8,335.0 L171.9,336.6 L172.1,338.1 L172.3,339.7 L172.4,341.3 L172.6,342.9 L172.7,344.5 L172.9,346.1 L173.0,347.7 L173.1,349.4 L173.3,350.9 L173.4,352.6 L173.5,354.3 L173.6,355.9 L173.7,357.5 L173.8,359.2 L173.9,360.8 L174.0,362.4 L174.1,364.0 L174.2,365.8 L175.7,365.8 L177.2,365.8 L177.8,364.3 L177.9,362.6 L178.0,361.0 L178.1,359.4 L178.2,357.7 L178.3,356.0 L178.4,354.5 L178.5,352.9 L178.6,351.3 L178.7,349.7 L178.8,348.2 L179.0,346.6 L179.1,345.0 L179.2,343.4 L179.4,341.8 L179.5,340.3 L179.7,338.7 L179.9,337.1 L180.0,335.5 L180.2,334.0 L180.4,332.4 L180.6,330.9 L180.8,329.3 L181.0,327.8 L181.3,326.3 L181.5,324.7 L181.7,323.2 L182.0,321.7 L182.3,320.1 L182.5,318.6 L182.8,317.1 L183.1,315.6 L183.4,314.0 L183.7,312.6 L184.1,311.1 L184.4,309.6 L184.8,308.1 L185.1,306.6 L185.5,305.2 L185.9,303.7 L186.3,302.2 L186.8,300.7 L187.2,299.3 L187.7,297.8 L188.2,296.4 L188.6,295.0 L189.2,293.6 L189.7,292.1 L190.3,290.7 L190.8,289.3 L191.4,287.9 L192.0,286.5 L192.7,285.1 L193.3,283.8 L194.0,282.4 L194.7,281.1 L195.4,279.7 L196.1,278.4 L196.9,277.1 L197.6,275.8 L198.4,274.5 L199.2,273.2 L200.1,271.9 L200.9,270.7 L201.8,269.5 L202.7,268.2 L203.6,267.0 L204.5,265.8 L205.5,264.7 L206.5,263.5 L207.5,262.4 L208.5,261.2 L209.5,260.1 L210.5,259.0 L211.6,257.9 L212.7,256.9 L213.7,255.8 L214.8,254.8 L216.0,253.8 L217.1,252.8 L218.2,251.8 L219.4,250.8 L220.6,249.9 L221.7,248.9 L222.9,248.0 L224.1,247.1 L225.4,246.2 L226.6,245.3 L227.8,244.5 L229.1,243.6 L230.3,242.8 L231.6,241.9 L232.9,241.1 L234.1,240.3 L235.4,239.5 L236.7,238.8 L238.0,238.0 L239.3,237.3 L240.6,236.5 L242.0,235.8 L243.3,235.1 L244.6,234.4 L246.0,233.7 L247.3,233.0 L248.7,232.3 L250.0,231.7 L251.4,231.0 L252.7,230.4 L254.1,229.7 L255.5,229.1 L256.9,228.5 L258.2,227.9 L259.6,227.3 L261.0,226.7 L262.4,226.1 L263.8,225.5 L265.2,225.0 L266.6,224.4 L268.0,223.8 L269.4,223.3 L270.8,222.8 L272.2,222.2 L273.7,221.7 L275.1,221.2 L276.5,220.7 L277.9,220.2 L279.3,219.7 L280.8,219.2 L282.2,218.7 L283.6,218.2 L285.1,217.7 L286.5,217.3 L287.9,216.8 L289.3,216.4 L290.8,215.9 L292.2,215.4 L293.7,215.0 L295.1,214.6 L296.6,214.1 L298.0,213.7 L299.5,213.3 L300.9,212.9 L302.4,212.5 L303.8,212.0 L305.2,211.6 L306.7,211.2 L308.2,210.8 L309.6,210.4 L311.1,210.1 L312.5,209.7 L314.0,209.3 L315.5,208.9 L316.9,208.5 L318.4,208.2 L319.8,207.8 L321.3,207.4 L322.8,207.1 L324.2,206.7 L325.7,206.4 L327.2,206.0 L328.6,205.7 L330.1,205.3 L331.6,205.0 L333.0,204.6 L334.5,204.3 L336.0,204.0 L337.5,203.6 L338.9,203.3 L340.4,203.0 L341.9,202.7 L343.4,202.4 L344.8,202.0 L346.3,201.7 L347.8,201.4 L348.7,201.2" stroke="#1414ff" stroke-width="1.6" stroke-dasharray="6 5.2" stroke-dashoffset="3.4"/>
</g>
<text x="46.2" y="10.00" font-size="14.7" text-anchor="end">2.0</text>
<text x="46.2" y="65.27" font-size="14.7" text-anchor="end">1.5</text>
<text x="46.2" y="120.53" font-size="14.7" text-anchor="end">1.0</text>
<text x="46.2" y="175.80" font-size="14.7" text-anchor="end">0.5</text>
<text x="46.6" y="218.68" font-size="14.7" text-anchor="end">10<tspan font-size="8.5" dy="-6.6">0</tspan></text>
<text x="46.6" y="260.05" font-size="14.7" text-anchor="end">10<tspan font-size="8.5" dy="-6.6">-1</tspan></text>
<text x="46.6" y="301.42" font-size="14.7" text-anchor="end">10<tspan font-size="8.5" dy="-6.6">-2</tspan></text>
<text x="46.6" y="342.80" font-size="14.7" text-anchor="end">10<tspan font-size="8.5" dy="-6.6">-3</tspan></text>
<text x="50.65" y="352.6" font-size="14.8" text-anchor="middle">0.0</text>
<text x="110.26" y="352.6" font-size="14.8" text-anchor="middle">0.1</text>
<text x="169.87" y="352.6" font-size="14.8" text-anchor="middle">0.2</text>
<text x="229.48" y="352.6" font-size="14.8" text-anchor="middle">0.3</text>
<text x="289.09" y="352.6" font-size="14.8" text-anchor="middle">0.4</text>
<text x="348.70" y="352.6" font-size="14.8" text-anchor="middle">0.5</text>
<text x="190.8" y="378.3" font-size="25" stroke="#000" stroke-width="0.5">ε</text><text x="200.8" y="367" font-size="15">f</text>
<text class="sans" transform="translate(16.3,217.90) rotate(-90)" font-size="22.5">σ</text>
<text transform="translate(24.1,204.00) rotate(-90) scale(0.855,1)" font-size="15.6">SM+NSI</text>
<line x1="16.2" y1="154.2" x2="-1" y2="148.4" stroke="#000" stroke-width="1.35"/>
<text class="sans" transform="translate(16.3,148.30) rotate(-90)" font-size="22.5">σ</text>
<text transform="translate(24.1,134.50) rotate(-90) scale(0.855,1)" font-size="15.6">SM</text>
<text class="sans" x="59.9" y="27.3" font-size="14.6">(a)</text>
<text class="sans" x="58.7" y="192.9" font-size="14.6">(b)</text>
<line x1="99" y1="22.70" x2="127.6" y2="22.70" stroke="#2626ff" stroke-width="1.1"/>
<line x1="99" y1="39.20" x2="126" y2="39.20" stroke="#1414ff" stroke-width="1.3" stroke-dasharray="3.4 2.2"/>
<line x1="99" y1="55.65" x2="127.6" y2="55.65" stroke="#ff0000" stroke-width="1.4"/>
<line x1="99" y1="72.10" x2="128" y2="72.10" stroke="#ff0000" stroke-width="1.6" stroke-dasharray="5 3.3"/>
<text x="130.80" y="26.80" font-size="12.6" dx="0 0 0.7 0 -0.7 -0.8 0 0 0">p: f=d (ε<tspan font-size="7.5" dy="-5.4" dx="0.3">u</tspan><tspan dy="5.4" dx="-0.5">=0)</tspan></text>
<text x="130.80" y="43.40" font-size="12.6" dx="0 0 0.7 0 -0.7 -0.8 0 0 0">p: f=u (ε<tspan font-size="7.5" dy="-5.4" dx="0.3">d</tspan><tspan dy="5.4" dx="-0.5">=0)</tspan></text>
<text x="130.80" y="59.90" font-size="12.6" dx="0 0 0.7 0 -0.7 -0.8 0 0 0">n: f=d (ε<tspan font-size="7.5" dy="-5.4" dx="0.3">u</tspan><tspan dy="5.4" dx="-0.5">=0)</tspan></text>
<text x="130.80" y="76.60" font-size="12.6" dx="0 0 0.7 0 -0.7 -0.8 0 0 0">n: f=u (ε<tspan font-size="7.5" dy="-5.4" dx="0.3">d</tspan><tspan dy="5.4" dx="-0.5">=0)</tspan></text>
<line x1="92.4" y1="187.6" x2="120.8" y2="187.6" stroke="#1a1a1a" stroke-width="1.05"/>
<text x="124.3" y="191.9" font-size="12.6"><tspan font-size="7.2" dy="-5.4">12</tspan><tspan dy="5.4" dx="-0.8 0 0.3 0 1.0 0 0 -0.7 0 -0.5 0.8 0 -0.4">C &amp; α: f=d (ε</tspan><tspan font-size="7.5" dy="-5.4" dx="0.4">u</tspan><tspan dy="5.4" dx="-0.4 0.2 -0.4 0 0.4 0 0 -0.3 0 -0.2 0 -1.0 0">=0) or f=u (ε</tspan><tspan font-size="7.5" dy="-5.4" dx="0.6">d</tspan><tspan dy="5.4" dx="-0.6 -0.2 0">=0)</tspan></text>
<line x1="228.3" y1="266.90" x2="256.6" y2="266.90" stroke="#ff0000" stroke-width="1.5"/>
<line x1="228" y1="283.20" x2="257" y2="283.20" stroke="#ff0000" stroke-width="1.25" stroke-dasharray="5 3.3"/>
<line x1="228.3" y1="299.90" x2="256.9" y2="299.90" stroke="#1414ff" stroke-width="1.9"/>
<line x1="227.8" y1="316.30" x2="256.9" y2="316.30" stroke="#1414ff" stroke-width="1.9" stroke-dasharray="5.9 5.2"/>
<text x="260.20" y="272.30" font-size="12.40"><tspan font-size="7.5" dy="-5.4">56</tspan><tspan dy="5.4" dx="0 0 -0.4 0 0 -0.5 -0.5">Fe: f=d (ε</tspan><tspan font-size="7.5" dy="-5.4" dx="0.3">u</tspan><tspan dy="5.4" dx="-0.3">=0)</tspan></text>
<text x="260.20" y="288.70" font-size="12.40"><tspan font-size="7.5" dy="-5.4">56</tspan><tspan dy="5.4" dx="0 0 -0.4 0 0 -0.5 -0.5">Fe: f=u (ε</tspan><tspan font-size="7.5" dy="-5.4" dx="0.3">d</tspan><tspan dy="5.4" dx="-0.3">=0)</tspan></text>
<text x="260.20" y="305.20" font-size="12.60"><tspan font-size="7.5" dy="-5.4">208</tspan><tspan dy="5.4" dx="0 0 -0.4 0 0 -0.5 -0.5">Pb: f=d (ε</tspan><tspan font-size="7.5" dy="-5.4" dx="0.3">u</tspan><tspan dy="5.4" dx="-0.3">=0)</tspan></text>
<text x="260.20" y="321.40" font-size="12.60"><tspan font-size="7.5" dy="-5.4">208</tspan><tspan dy="5.4" dx="0 0 -0.4 0 0 -0.5 -0.5">Pb: f=u (ε</tspan><tspan font-size="7.5" dy="-5.4" dx="0.3">d</tspan><tspan dy="5.4" dx="-0.3">=0)</tspan></text>
</svg>
</body></html>
